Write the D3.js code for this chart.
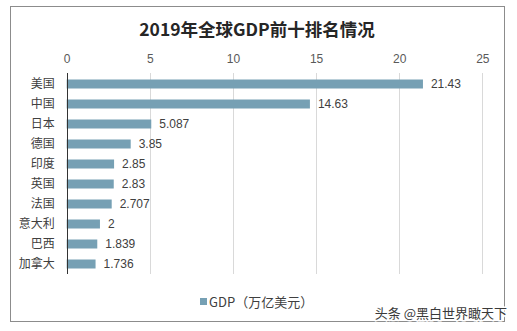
<!DOCTYPE html>
<html><head><meta charset="utf-8">
<script src="https://cdn.jsdelivr.net/npm/d3@7"></script>
<style>body{margin:0;background:#fff}svg{display:block}</style>
</head><body>
<svg id="c" width="517" height="331"></svg>
<script>
const categories = ["美国","中国","日本","德国","印度","英国","法国","意大利","巴西","加拿大"];
const values = [21.43,14.63,5.087,3.85,2.85,2.83,2.707,2,1.839,1.736];
const valueLabels = ["21.43","14.63","5.087","3.85","2.85","2.83","2.707","2","1.839","1.736"];
const tickValues = [0,5,10,15,20,25];
const title = "2019年全球GDP前十排名情况";
const seriesName = "GDP（万亿美元）";
const watermark = "头条 @黑白世界瞰天下";

const font = "'Liberation Sans', Arial, 'Noto Sans CJK SC', sans-serif";
const cjk = "'Noto Sans CJK SC', 'Liberation Sans', sans-serif";
const svg = d3.select("#c");

svg.append("rect").attr("x",10.5).attr("y",6.5).attr("width",494).attr("height",315)
  .attr("fill","#fff").attr("stroke","#8c8c8c").attr("stroke-width",1);

svg.append("text").attr("x",257).attr("y",36).attr("text-anchor","middle")
  .attr("font-family",cjk).attr("font-weight","bold").attr("font-size",17.5)
  .attr("fill","#262626").text(title);

const x = d3.scaleLinear().domain([0,25]).range([66.7,482.3]);
const y = d3.scaleBand().domain(categories).range([74,274]).paddingInner(0.55).paddingOuter(0.275);

// gridlines
svg.append("g").selectAll("line").data(tickValues.filter(d=>d>0)).join("line")
  .attr("x1",d=>Math.round(x(d))+0.5).attr("x2",d=>Math.round(x(d))+0.5)
  .attr("y1",73).attr("y2",274).attr("stroke","#d9d9d9");

// top axis tick labels
const ax = d3.axisTop(x).tickValues(tickValues).tickSize(0).tickPadding(0);
const g = svg.append("g").attr("transform","translate(0,63)").call(ax);
g.select(".domain").remove();
g.selectAll("text").attr("font-family",font).attr("font-size",12).attr("fill","#595959").attr("dy","0");

// bars
svg.append("g").selectAll("rect").data(values).join("rect")
  .attr("x",x(0)).attr("y",(d,i)=>y(categories[i]))
  .attr("width",d=>x(d)-x(0)).attr("height",y.bandwidth())
  .attr("fill","#76a0b4");

// zero axis line
svg.append("line").attr("x1",Math.round(x(0))+0.5).attr("x2",Math.round(x(0))+0.5)
  .attr("y1",73).attr("y2",274).attr("stroke","#333");

// category labels
const ay = d3.axisLeft(y).tickSize(0).tickPadding(12);
const gy = svg.append("g").attr("transform",`translate(${x(0)},0)`).call(ay);
gy.select(".domain").remove();
gy.selectAll("text").attr("font-family",cjk).attr("font-size",12).attr("fill","#404040");

// value labels
svg.append("g").selectAll("text").data(values).join("text")
  .attr("x",d=>x(d)+8).attr("y",(d,i)=>y(categories[i])+y.bandwidth()/2)
  .attr("dy","0.36em").attr("font-family",font).attr("font-size",12).attr("fill","#404040")
  .text((d,i)=>valueLabels[i]);

// legend
svg.append("rect").attr("x",200).attr("y",298).attr("width",7).attr("height",7).attr("fill","#76a0b4");
svg.append("text").attr("x",209).attr("y",302).attr("dy","0.36em")
  .attr("font-family",cjk).attr("font-size",13).attr("fill","#404040").text(seriesName);

// watermark
svg.append("text").attr("x",507).attr("y",313).attr("dy","0.36em").attr("text-anchor","end")
  .attr("font-family",cjk).attr("font-size",13).attr("fill","#3a3a3a")
  .attr("stroke","#fff").attr("stroke-width",3).attr("paint-order","stroke")
  .text(watermark);
</script>
</body></html>
